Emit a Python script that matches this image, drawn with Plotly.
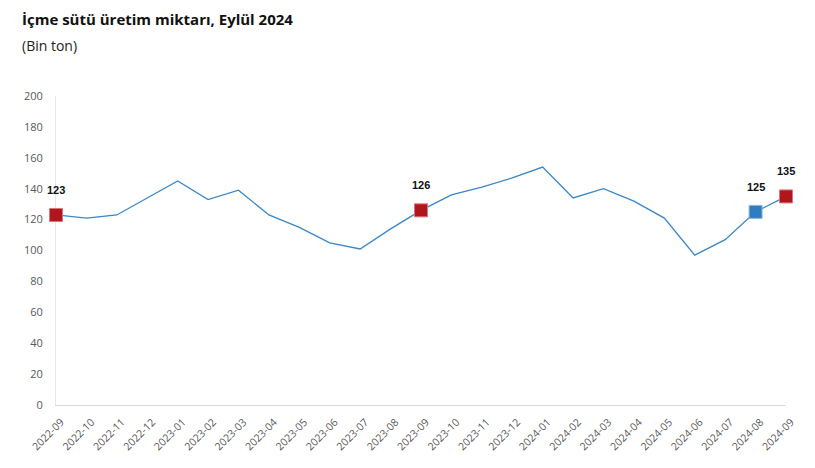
import plotly.graph_objects as go

months = ["2022-09","2022-10","2022-11","2022-12","2023-01","2023-02","2023-03","2023-04",
          "2023-05","2023-06","2023-07","2023-08","2023-09","2023-10","2023-11","2023-12",
          "2024-01","2024-02","2024-03","2024-04","2024-05","2024-06","2024-07","2024-08","2024-09"]
values = [123,121,123,134,145,133,139,123,115,105,101,114,126,136,141,147,154,134,140,132,121,97,107,125,135]
highlight_red = ["2022-09","2023-09","2024-09"]
highlight_blue = ["2024-08"]
y_ticks = [0,20,40,60,80,100,120,140,160,180,200]

xs = list(range(len(months)))
red_idx = [months.index(m) for m in highlight_red]
blue_idx = [months.index(m) for m in highlight_blue]

fig = go.Figure()
fig.add_trace(go.Scatter(x=xs, y=values, mode="lines",
                         line=dict(color="#3A87C8", width=1.3),
                         hoverinfo="skip", cliponaxis=False, showlegend=False))
fig.add_trace(go.Scatter(x=[xs[i] for i in red_idx], y=[values[i] for i in red_idx],
                         mode="markers",
                         marker=dict(symbol="square", size=13, color="#B0161E",
                                     line=dict(color="#D9787C", width=1)),
                         cliponaxis=False, showlegend=False))
fig.add_trace(go.Scatter(x=[xs[i] for i in blue_idx], y=[values[i] for i in blue_idx],
                         mode="markers",
                         marker=dict(symbol="square", size=13, color="#2F7DC0",
                                     line=dict(color="#8DBBE3", width=1)),
                         cliponaxis=False, showlegend=False))

for i in sorted(red_idx + blue_idx):
    fig.add_annotation(x=xs[i], y=values[i], text="<b>%d</b>" % values[i], showarrow=False,
                       yshift=25, font=dict(family="Arial", size=11, color="#111111"))

fig.update_layout(
    width=815, height=468,
    margin=dict(l=56, r=29, t=96, b=63),
    paper_bgcolor="white", plot_bgcolor="white",
    font=dict(family="Open Sans", color="#595959"),
)
fig.add_annotation(text="<b>İçme sütü üretim miktarı, Eylül 2024</b>", xref="paper", yref="paper",
                   x=(20-56)/730, y=1 + (96-19)/309, xanchor="left", yanchor="middle", showarrow=False,
                   font=dict(family="Open Sans", size=15, color="#111111"))
fig.add_annotation(text="(Bin ton)", xref="paper", yref="paper",
                   x=(20-56)/730, y=1 + (96-46)/309, xanchor="left", yanchor="middle", showarrow=False,
                   font=dict(family="Open Sans", size=14, color="#222222"))

fig.update_xaxes(range=[0, len(months)-1], tickmode="array", tickvals=xs, ticktext=months,
                 tickangle=-45, tickfont=dict(size=10.5, color="#595959"),
                 showgrid=False, zeroline=False, showline=True, linecolor="#D9D9D9", linewidth=1,
                 ticks="", layer="below traces", ticklabelstandoff=6, ticklabelshift=5)
fig.update_yaxes(range=[0, 200], tickmode="array", tickvals=y_ticks,
                 tickfont=dict(size=11, color="#595959"),
                 showgrid=False, zeroline=False, showline=True, linecolor="#E6E6E6", linewidth=1,
                 ticks="", ticklabelstandoff=10, layer="below traces")

fig.write_html("out.html")
